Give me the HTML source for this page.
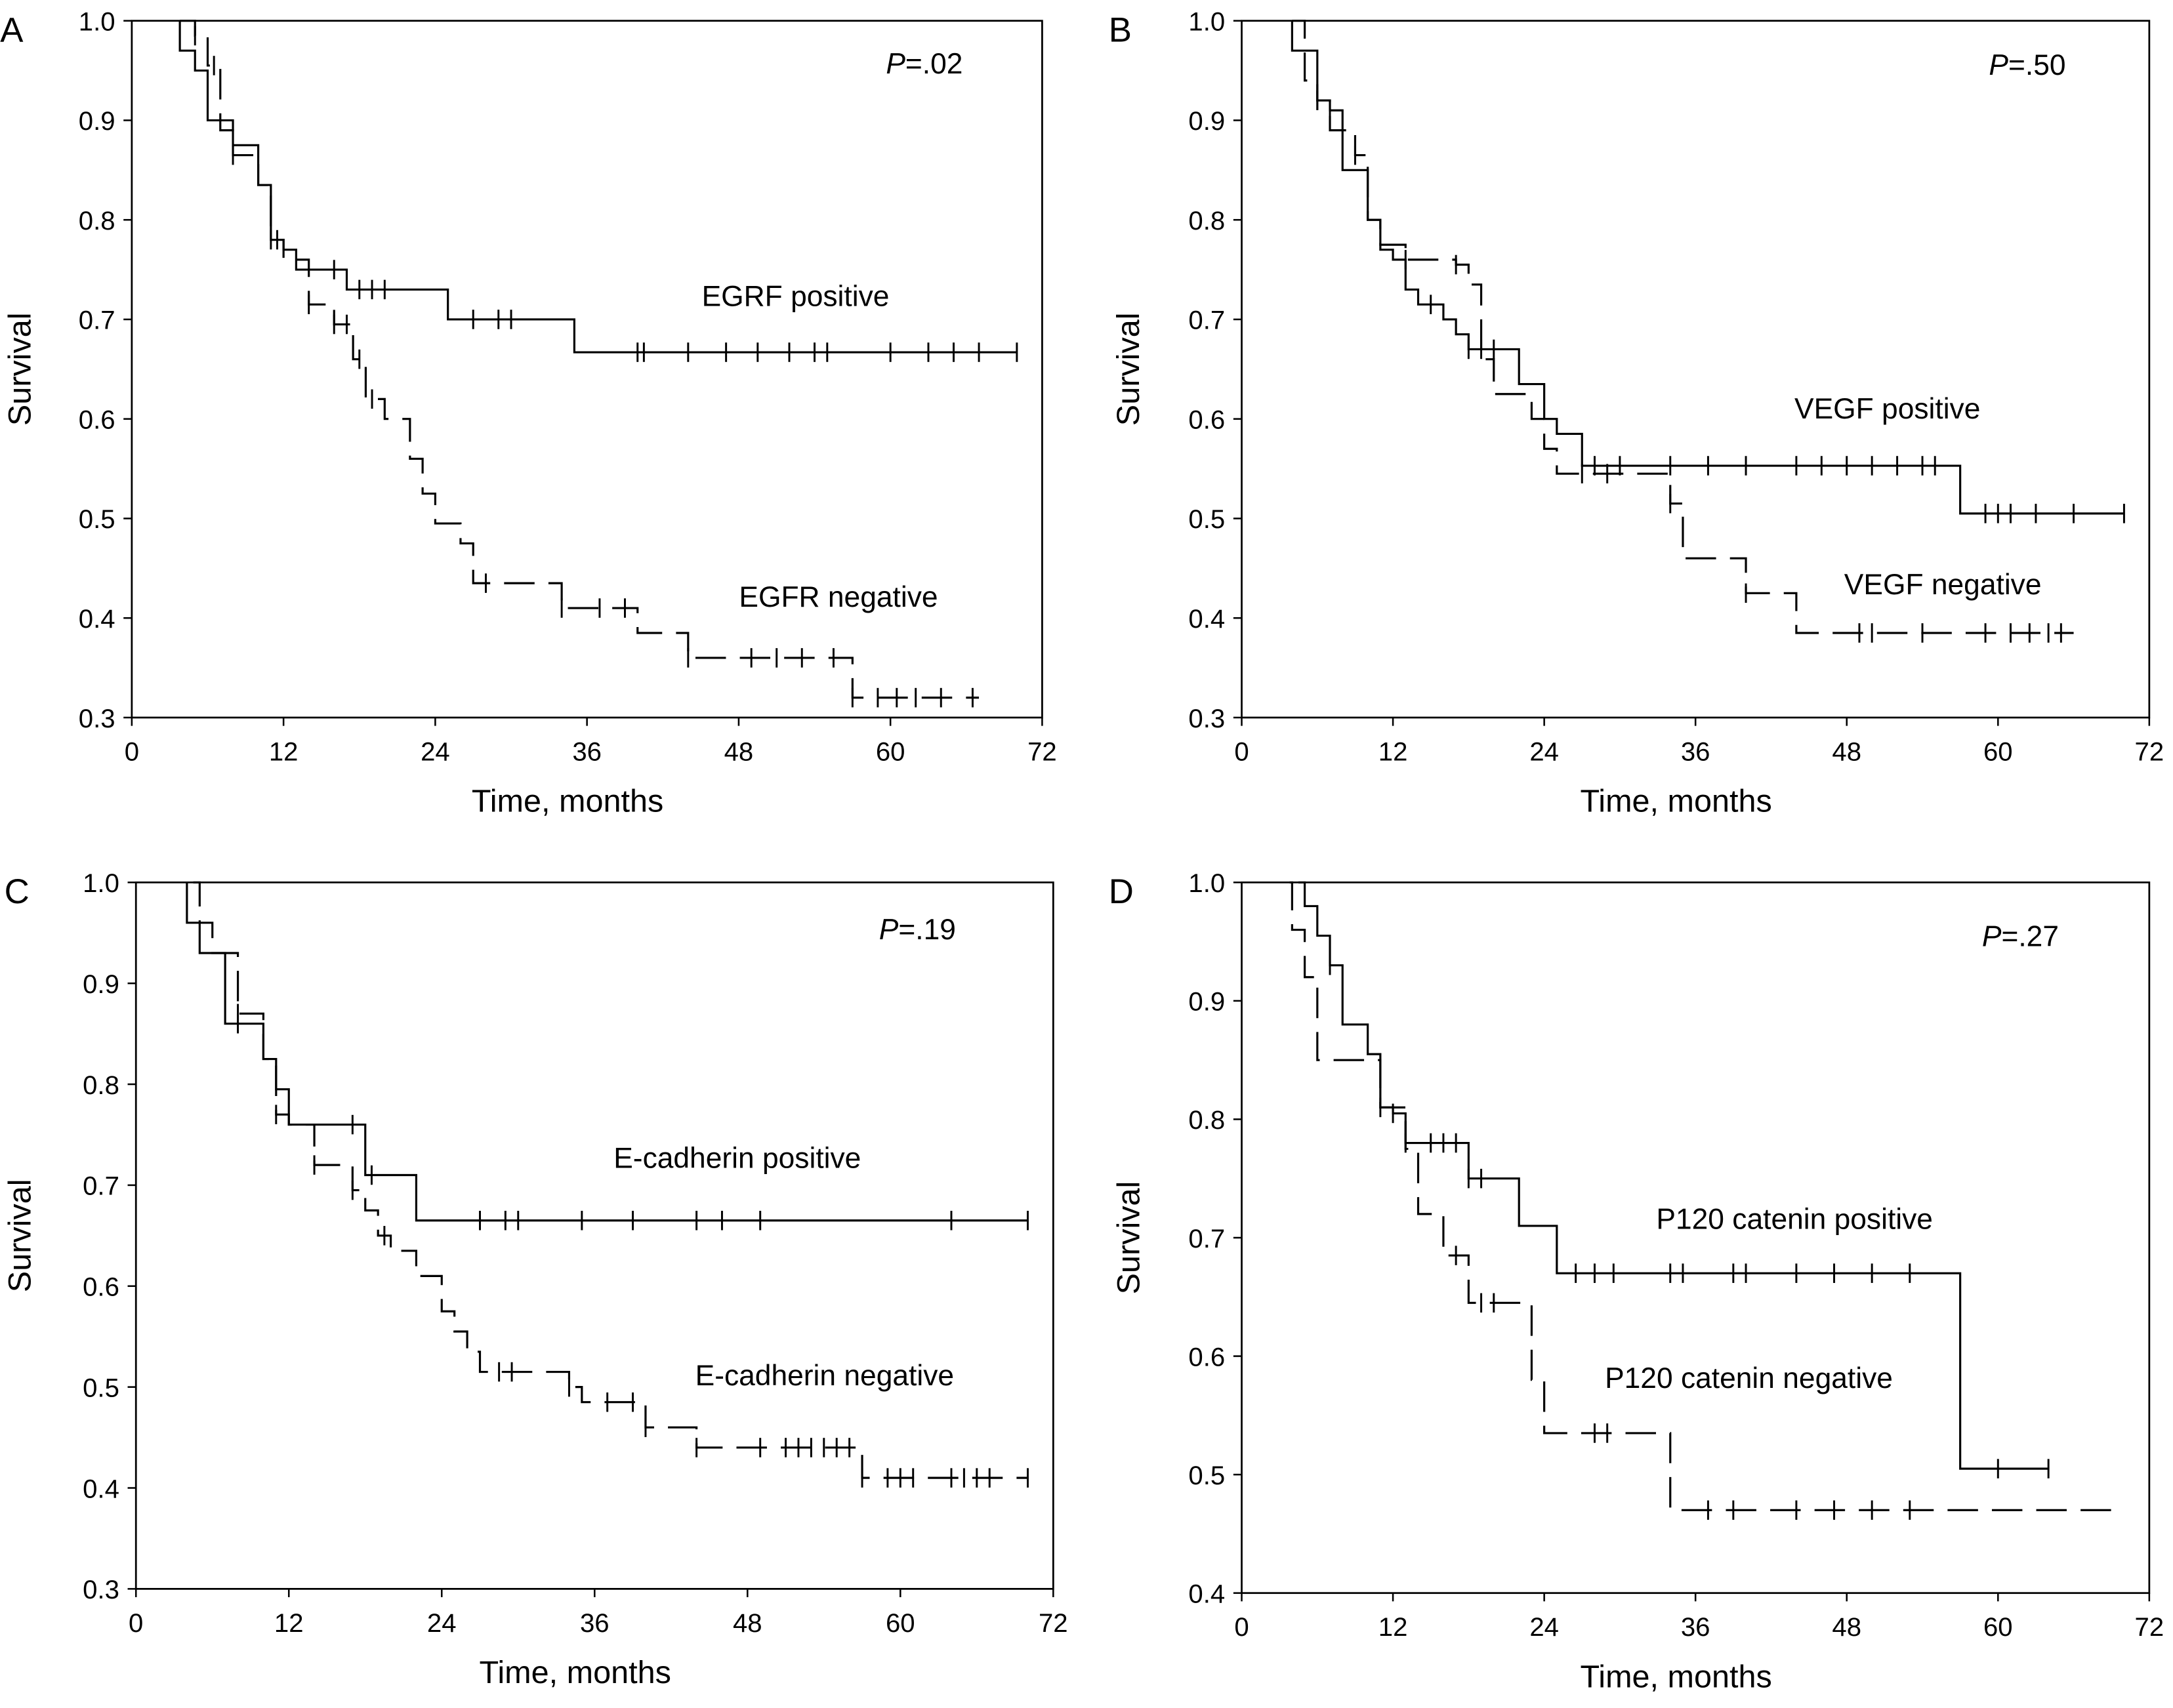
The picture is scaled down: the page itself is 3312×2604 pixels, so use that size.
<!DOCTYPE html>
<html><head><meta charset="utf-8"><style>
html,body{margin:0;padding:0;background:#fff}
svg{display:block}
text{font-family:"Liberation Sans",Arial,sans-serif;fill:#000}
</style></head><body>
<svg id="fig" width="3312" height="2604" viewBox="0 0 1568 1233" xmlns="http://www.w3.org/2000/svg"></svg>
<script>
// Panel A data
const aPosSteps=[[3.8,0.97],[5,0.95],[6,0.90],[8,0.875],[10,0.835],[11,0.78],[12,0.77],[13,0.75],[17,0.73],[25,0.70],[35,0.667]];
const aPosCens=[11.5,16,18,19,20,27,29,30,40,40.5,44,47,49.5,52,54,55,60,63,65,67,70];
const aNegSteps=[[5,0.985],[6,0.955],[7,0.89],[8,0.865],[10,0.835],[11,0.78],[12,0.76],[14,0.715],[16,0.695],[17.5,0.66],[18.5,0.62],[20,0.6],[22,0.56],[23,0.525],[24,0.495],[26,0.475],[27,0.435],[34,0.41],[40,0.385],[44,0.36],[57,0.32]];
const aNegCens=[5,6.5,8,11,13,14,16,17,18,19,28,34,37,39,44,49,51,53,55.5,57,59,60.5,62,64,66.5];
// Panel B
const bPosSteps=[[4,0.97],[6,0.92],[7,0.91],[8,0.85],[10,0.80],[11,0.77],[12,0.76],[13,0.73],[14,0.715],[16,0.70],[17,0.685],[18,0.67],[22,0.635],[24,0.60],[25,0.585],[27,0.553],[57,0.505]];
const bPosCens=[6,7,15,18,19,20,28,30,34,37,40,44,46,48,50,52,54,55,59,60,61,63,66,70];
const bNegSteps=[[5,0.94],[6,0.92],[7,0.89],[9,0.865],[10,0.80],[11,0.775],[13,0.76],[17,0.755],[18,0.735],[19,0.66],[20,0.625],[23,0.60],[24,0.57],[25,0.545],[34,0.515],[35,0.46],[40,0.425],[44,0.385]];
const bNegCens=[6,9,13,17,27,29,34,40,49,50,54,59,61,62.5,64,65];
// Panel C
const cPosSteps=[[4,0.96],[5,0.93],[7,0.86],[10,0.825],[11,0.795],[12,0.76],[18,0.71],[22,0.665]];
const cPosCens=[8,17,18.5,27,29,30,35,39,44,46,49,64,70];
const cNegSteps=[[5,0.96],[6,0.93],[8,0.87],[10,0.825],[11,0.77],[12,0.76],[14,0.72],[17,0.695],[18,0.675],[19,0.65],[20,0.635],[22,0.61],[24,0.575],[25,0.555],[26,0.535],[27,0.515],[34,0.50],[35,0.485],[40,0.46],[44,0.44],[57,0.41]];
const cNegCens=[8,11,14,17,19.5,28.5,29.5,34,37,39,40,44,49,51,52,53,54,55,56,57,59,60,61,64,65,66,67,70];
// Panel D
const dPosSteps=[[5,0.98],[6,0.955],[7,0.93],[8,0.88],[10,0.855],[11,0.81],[12,0.805],[13,0.78],[18,0.75],[22,0.71],[25,0.67],[57,0.505]];
const dPosCens=[7,12,13,15,16,17,18,19,26.5,28,29.5,34,35,39,40,44,47,50,53,60,64];
const dNegSteps=[[4,0.96],[5,0.92],[6,0.85],[11,0.81],[13,0.775],[14,0.72],[16,0.685],[18,0.645],[23,0.58],[24,0.535],[34,0.47]];
const dNegCens=[11,17,19,20,28,29,37,39,44,47,50,53];
const xTicks=[0,12,24,36,48,60,72];
const yTicksABC=[0.3,0.4,0.5,0.6,0.7,0.8,0.9,1.0];
const yTicksD=[0.4,0.5,0.6,0.7,0.8,0.9,1.0];

const NS="http://www.w3.org/2000/svg";
const svg=document.getElementById('fig');
function mk(tag,attrs,parent){const e=document.createElementNS(NS,tag);for(const k in attrs)e.setAttribute(k,attrs[k]);(parent||svg).appendChild(e);return e;}

function panel(cfg){
  const g=mk('g',{});
  
  
  const {x0,x1,y0,y1,ymin}=cfg;
  const X=t=>x0+(t/72)*(x1-x0);
  const Y=v=>y1-(v-ymin)/(1-ymin)*(y1-y0);
  const box=mk('rect',{x:x0,y:y0,width:x1-x0,height:y1-y0,fill:'none',stroke:'#000','stroke-width':1.3},g);
  
  
  xTicks.forEach(t=>{
    mk('line',{x1:X(t),x2:X(t),y1:y1,y2:y1+6,stroke:'#000','stroke-width':1.2},g);
    const tx=mk('text',{x:X(t),y:y1+31,'font-size':19,'text-anchor':'middle'},g);tx.textContent=t;
    
    
  });
  cfg.yt.forEach(v=>{
    mk('line',{x1:x0-6,x2:x0,y1:Y(v),y2:Y(v),stroke:'#000','stroke-width':1.2},g);
    const tx=mk('text',{x:x0-12,y:Y(v)+7,'font-size':19,'text-anchor':'end'},g);tx.textContent=v.toFixed(1);
    
    
  });
  const xt=mk('text',{x:(x0+x1)/2-14,y:y1+68,'font-size':23,'text-anchor':'middle'},g);xt.textContent='Time, months';
  
  
  const yc=(y0+y1)/2;
  const yt=mk('text',{x:cfg.ytx,y:yc,'font-size':23,'text-anchor':'middle',transform:`rotate(-90 ${cfg.ytx} ${yc})`},g);yt.textContent='Survival';
  
  
  const lt=mk('text',{x:cfg.lx,y:cfg.ly,'font-size':25},g);lt.textContent=cfg.id;
  
  
  const pv=mk('text',{x:cfg.px,y:cfg.py,'font-size':21,'text-anchor':'middle'},g);
  pv.innerHTML='<tspan font-style="italic">P</tspan>='+cfg.p;
  
  
  function curve(steps,cens,end,dash,name,start){
    let d=`M${X(start)},${Y(1)}`;
    steps.forEach(([t,v])=>{d+=`H${X(t)}V${Y(v)}`;});
    d+=`H${X(end)}`;
    const p=mk('path',{d,fill:'none',stroke:'#000','stroke-width':1.5},g);
    if(dash)p.setAttribute('stroke-dasharray','22 10');
    
    
    cens.forEach(t=>{
      let v=1;steps.forEach(([st,sv])=>{if(st<=t)v=sv;});
      const c=mk('line',{x1:X(t),x2:X(t),y1:Y(v)-7,y2:Y(v)+7,stroke:'#000','stroke-width':1.4},g);
      
      
    });
  }
  curve(cfg.pos[0],cfg.pos[1],cfg.pos[2],false,'positive',cfg.pos[3]);
  curve(cfg.neg[0],cfg.neg[1],cfg.neg[2],true,'negative',cfg.neg[3]);
  cfg.labels.forEach(([s,x,y])=>{const t=mk('text',{x,y,'font-size':21,'text-anchor':'middle'},g);t.textContent=s;
    
    });
}
panel({id:'A',x0:95,x1:752,y0:15,y1:518,ymin:0.3,yt:yTicksABC,ytx:22,lx:0,ly:30,px:667,py:53,p:'.02',
  pos:[aPosSteps,aPosCens,70,3.8],neg:[aNegSteps,aNegCens,67,3.8],labels:[['EGRF positive',574,221],['EGFR negative',605,438]]});
panel({id:'B',x0:896,x1:1551,y0:15,y1:518,ymin:0.3,yt:yTicksABC,ytx:822,lx:800,ly:30,px:1463,py:54,p:'.50',
  pos:[bPosSteps,bPosCens,70,4],neg:[bNegSteps,bNegCens,66,4],labels:[['VEGF positive',1362,302],['VEGF negative',1402,429]]});
panel({id:'C',x0:98,x1:760,y0:637,y1:1147,ymin:0.3,yt:yTicksABC,ytx:22,lx:3,ly:652,px:662,py:678,p:'.19',
  pos:[cPosSteps,cPosCens,70,4],neg:[cNegSteps,cNegCens,70,4.5],labels:[['E-cadherin positive',532,843],['E-cadherin negative',595,1000]]});
panel({id:'D',x0:896,x1:1551,y0:637,y1:1150,ymin:0.4,yt:yTicksD,ytx:822,lx:800,ly:652,px:1458,py:683,p:'.27',
  pos:[dPosSteps,dPosCens,64,4.5],neg:[dNegSteps,dNegCens,70,3.8],labels:[['P120 catenin positive',1295,887],['P120 catenin negative',1262,1002]]});
</script>
</body></html>
